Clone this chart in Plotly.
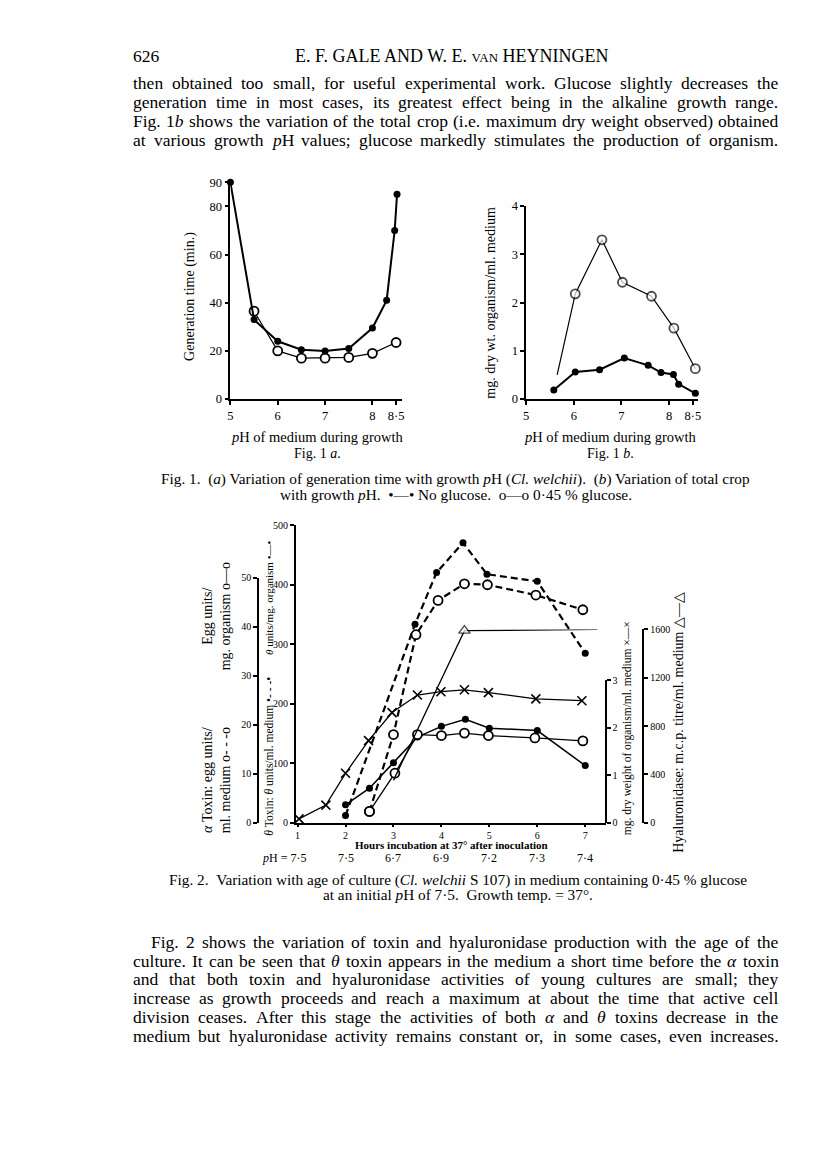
import re
import plotly.graph_objects as go

W, H = 816, 1164

# ---------------- data ----------------
# Fig. 1a  generation time (min.) against growth pH
ph_1a_noglu = [5.0, 5.5, 6.0, 6.5, 7.0, 7.5, 8.0, 8.3, 8.47, 8.52]
gen_noglu = [90, 33, 24, 20.5, 20, 21, 29.5, 41, 70, 85]
ph_1a_glu = [5.5, 6.0, 6.5, 7.0, 7.5, 8.0, 8.5]
gen_glu = [36.5, 20, 17, 17, 17.3, 19, 23.5]

# Fig. 1b  total crop (mg. dry wt./ml.) against growth pH
ph_1b_glu = [5.65, 6.03, 6.59, 7.02, 7.63, 8.1, 8.55]
crop_glu = [0.5, 2.18, 3.30, 2.42, 2.13, 1.47, 0.63]
ph_1b_noglu = [5.58, 6.03, 6.54, 7.06, 7.56, 7.83, 8.09, 8.2, 8.55]
crop_noglu = [0.19, 0.56, 0.61, 0.85, 0.70, 0.55, 0.51, 0.31, 0.12]

# Fig. 2  against hours of incubation
theta_med_h = [2.0, 3.45, 3.9, 4.45, 4.95, 6.0, 7.0]
theta_med = [12, 334, 421, 471, 418, 406, 285]
theta_org_h = [2.0, 2.5, 3.0, 3.5, 4.0, 4.5, 5.0, 6.0, 7.0]
theta_org = [30, 58, 101, 144, 162, 174, 159, 155, 96]
alpha_med_h = [2.5, 3.0, 3.47, 3.93, 4.48, 4.96, 5.97, 6.95]
alpha_med = [2.3, 18.0, 38.4, 45.4, 48.8, 48.6, 46.5, 43.5]
alpha_org_h = [2.5, 3.03, 3.5, 4.0, 4.48, 4.98, 5.95, 6.95]
alpha_org = [2.3, 10.1, 18.0, 17.8, 18.3, 17.8, 17.3, 16.7]
dry_h = [1.03, 1.59, 2.0, 2.48, 2.97, 3.5, 3.99, 4.48, 4.98, 5.97, 6.93]
dry_wt = [0.08, 0.37, 1.04, 1.73, 2.32, 2.69, 2.76, 2.80, 2.74, 2.61, 2.57]
hyal_h = [3.0, 4.48, 7.25]
hyal = [350, 1590, 1600]
hours = [1, 2, 3, 4, 5, 6, 7]
ph_row = ['7·5', '7·5', '6·7', '6·9', '7·2', '7·3', '7·4']

para1 = [
    "then obtained too small, for useful experimental work. Glucose slightly decreases the",
    "generation time in most cases, its greatest effect being in the alkaline growth range.",
    "Fig. 1<i>b</i> shows the variation of the total crop (i.e. maximum dry weight observed) obtained",
    "at various growth <i>p</i>H values; glucose markedly stimulates the production of organism.",
]
para2 = [
    "Fig. 2 shows the variation of toxin and hyaluronidase production with the age of the",
    "culture. It can be seen that <i>θ</i> toxin appears in the medium a short time before the <i>α</i> toxin",
    "and that both toxin and hyaluronidase activities of young cultures are small; they",
    "increase as growth proceeds and reach a maximum at about the time that active cell",
    "division ceases. After this stage the activities of both <i>α</i> and <i>θ</i> toxins decrease in the",
    "medium but hyaluronidase activity remains constant or, in some cases, even increases.",
]

FONT = "Liberation Serif"
NB = "\u00a0"


# page pixel -> paper coords (allowing for the page margin seen in the render)
def px(x):
    return (x - 8) / W


def py(y):
    return 1 - ((y - 14.5) / 0.989) / H


# Times / Liberation Serif advance widths (per 1000 em)
TW = {' ': 250, '.': 250, ',': 250, ';': 278, ':': 278, '(': 333, ')': 333,
      '-': 333, '/': 278, '%': 833, '=': 564, '·': 250, '°': 400, 'θ': 500,
      'α': 530, '—': 1000, '•': 350, NB: 250}
for c, w in zip('abcdefghijklmnopqrstuvwxyz',
                [444, 500, 444, 500, 444, 333, 500, 500, 278, 278, 500, 278, 778,
                 500, 500, 500, 500, 333, 389, 278, 500, 500, 722, 500, 500, 444]):
    TW[c] = w
for c, w in zip('ABCDEFGHIJKLMNOPQRSTUVWXYZ',
                [722, 667, 667, 722, 611, 556, 722, 722, 333, 389, 722, 611, 889,
                 722, 722, 556, 722, 667, 556, 611, 722, 722, 944, 722, 722, 611]):
    TW[c] = w
for c in '0123456789':
    TW[c] = 500


def text_width(s, size):
    s = re.sub(r'<[^>]+>', '', s)
    return sum(TW.get(c, 500) for c in s) * size / 1000


ann = []


def label(text, x, y, size, angle=0, xanchor='center', bold=False):
    if bold:
        text = '<b>' + text + '</b>'
    ann.append(dict(text=text, x=px(x), y=py(y), xref='paper', yref='paper',
                    showarrow=False, textangle=angle, xanchor=xanchor, yanchor='middle',
                    borderpad=0, borderwidth=0,
                    font=dict(family=FONT, size=size, color='black')))


def justify(line, y, size, x0=131, x1=781, indent=0):
    words = line.split(' ')
    widths = [text_width(w, size) for w in words]
    gap = (x1 - x0 - indent - sum(widths)) / (len(words) - 1)
    x = x0 + indent
    for w, wd in zip(words, widths):
        label(w, x, y, size, xanchor='left')
        x += wd + gap


BODY = 17.5
label("626", 131, 56, BODY, xanchor='left')
label("E. F. GALE AND W. E. <span style='font-size:13px'>VAN</span> HEYNINGEN", 452, 56, 18)
for line, y in zip(para1, [83, 102, 121, 140]):
    justify(line, y, BODY)
for i, (line, y) in enumerate(zip(para2, [942, 961, 980, 999, 1018, 1037])):
    justify(line, y, BODY, indent=18 if i == 0 else 0)

# captions
cap1a = ("Fig. 1." + NB * 2 + "(<i>a</i>) Variation of generation time with growth <i>p</i>H "
         "(<i>Cl. welchii</i>)." + NB * 2 + "(<i>b</i>) Variation of total crop")
cap1b = ("with growth <i>p</i>H." + NB * 2 + "•—•" + NB + "No glucose." + NB * 2 + "o—o" + NB +
         "0·45" + NB + "% glucose.")
CAP = 593 / text_width(cap1a, 1)
label(cap1a, 456, 479, CAP)
label(cap1b, 456, 494, CAP)
label("Fig. 2." + NB * 2 + "Variation with age of culture (<i>Cl. welchii</i> S 107) in medium "
      "containing 0·45 % glucose", 458, 880, CAP)
label("at an initial <i>p</i>H of 7·5." + NB * 2 + "Growth temp. = 37°.", 458, 895, CAP)

# fig 1 labels
label("Generation time (min.)", 189, 296, 14, angle=-90)
label("mg. dry wt. organism/ml. medium", 491, 302, 14, angle=-90)
label("<i>p</i>H of medium during growth", 317, 437, 14.5)
label("<i>p</i>H of medium during growth", 612, 437, 14.5)
label("Fig. 1 <i>a</i>.", 317, 453, 14)
label("Fig. 1 <i>b</i>.", 612, 453, 14)

# fig 2 labels
label("<i>α</i> Toxin: egg units/<br>ml. medium o- - -o", 215, 780, 14, angle=-90)
label("Egg units/<br>mg. organism o—o", 215, 616, 14, angle=-90)
label("<i>θ</i> Toxin: <i>θ</i> units/ml. medium •- - -•", 268, 757, 11.5, angle=-90)
label("<i>θ</i> units/mg. organism •—•", 268, 598, 11, angle=-90)
label("mg. dry weight of organism/ml. medium ×—×", 629, 728, 11.5, angle=-90)
label("Hyaluronidase: m.c.p. titre/ml. medium △—△", 681, 723, 14, angle=-90)
label("Hours incubation at 37° after inoculation", 452, 845, 11, bold=True)
for h, p in zip(hours, ph_row):
    first = h == hours[0]
    ann.append(dict(text=("<i>p</i>H = " + p) if first else p, x=h, y=py(858),
                    xref='x3', yref='paper', showarrow=False,
                    xanchor='right' if first else 'center', xshift=10 if first else 0,
                    yanchor='middle', font=dict(family=FONT, size=12, color='black')))

# ---------------- traces ----------------
filled = dict(symbol='circle', size=7, color='black')
opened = dict(symbol='circle', size=9, color='white', line=dict(color='black', width=1.8))

traces = [
    go.Scatter(x=ph_1a_glu, y=gen_glu, xaxis='x', yaxis='y', mode='lines+markers',
               line=dict(color='black', width=1.2), marker=opened, cliponaxis=False),
    go.Scatter(x=ph_1a_noglu, y=gen_noglu, xaxis='x', yaxis='y', mode='lines+markers',
               line=dict(color='black', width=2), marker=filled, cliponaxis=False),
    go.Scatter(x=ph_1b_noglu, y=crop_noglu, xaxis='x2', yaxis='y2', mode='lines+markers',
               line=dict(color='black', width=2), marker=filled, cliponaxis=False),
    go.Scatter(x=ph_1b_glu, y=crop_glu, xaxis='x2', yaxis='y2', mode='lines+markers',
               line=dict(color='black', width=1.2),
               marker=dict(opened, size=[0] + [9] * (len(crop_glu) - 1)), cliponaxis=False),
    # fig 2
    go.Scatter(x=hyal_h, y=hyal, xaxis='x6', yaxis='y6', mode='lines+markers',
               line=dict(color='black', width=1.3),
               marker=dict(symbol='triangle-up', size=[0, 10, 0], color='white',
                           line=dict(color='black', width=1.4)), cliponaxis=False),
    go.Scatter(x=dry_h, y=dry_wt, xaxis='x5', yaxis='y5', mode='lines+markers',
               line=dict(color='black', width=1.3),
               marker=dict(symbol='x-thin', size=9, line=dict(color='black', width=1.6)),
               cliponaxis=False),
    go.Scatter(x=theta_med_h, y=theta_med, xaxis='x3', yaxis='y3', mode='lines+markers',
               line=dict(color='black', width=2.2, dash='7px,4px'), marker=filled, cliponaxis=False),
    go.Scatter(x=theta_org_h, y=theta_org, xaxis='x3', yaxis='y3', mode='lines+markers',
               line=dict(color='black', width=1.5), marker=filled, cliponaxis=False),
    go.Scatter(x=alpha_med_h, y=alpha_med, xaxis='x4', yaxis='y4', mode='lines+markers',
               line=dict(color='black', width=2.2, dash='7px,4px'), marker=opened, cliponaxis=False),
    go.Scatter(x=alpha_org_h, y=alpha_org, xaxis='x4', yaxis='y4', mode='lines+markers',
               line=dict(color='black', width=1.3), marker=opened, cliponaxis=False),
]

tick_font = dict(family=FONT, size=12.5, color='black')
small_tick = dict(family=FONT, size=10, color='black')


def ax(**kw):
    base = dict(showline=True, linecolor='black', linewidth=1.6, ticks='outside', ticklen=4,
                tickwidth=1.5, tickcolor='black', showgrid=False, zeroline=False,
                tickfont=tick_font, fixedrange=True)
    base.update(kw)
    return base


h0 = 296.7
hpx = 48.3
hrange = [1 - (h0 - 295) / hpx, 1 + (607 - h0) / hpx]
hidden = dict(domain=[px(295), px(607)], range=hrange, visible=False, fixedrange=True)

layout = go.Layout(
    width=W, height=H, margin=dict(l=0, r=0, t=0, b=0),
    paper_bgcolor='white', plot_bgcolor='rgba(0,0,0,0)', showlegend=False,
    xaxis=ax(domain=[px(229), px(402)], range=[5, 5 + 173 / 47.7], anchor='y',
             tickvals=[5, 6, 7, 8, 8.5], ticktext=['5', '6', '7', '8', '8·5']),
    yaxis=ax(domain=[py(399), py(182)], range=[0, 90], anchor='x',
             tickvals=[0, 20, 40, 60, 80, 90]),
    xaxis2=ax(domain=[px(527), px(700)], range=[5, 5 + 173 / 48], anchor='y2',
              tickvals=[5, 6, 7, 8, 8.5], ticktext=['5', '6', '7', '8', '8·5']),
    yaxis2=ax(domain=[py(399), py(205.7)], range=[0, 4], anchor='x2', dtick=1),
    xaxis3=ax(domain=[px(295), px(607)], range=hrange, anchor='y3', tickvals=hours,
              linewidth=2, ticklen=2, tickfont=small_tick),
    yaxis3=ax(domain=[py(823), py(525.5)], range=[0, 500], anchor='x3', dtick=100,
              linewidth=2, tickfont=small_tick),
    xaxis4=dict(hidden, anchor='y4'),
    yaxis4=ax(domain=[py(823), py(578)], range=[0, 50], anchor='free', position=px(257),
              side='left', dtick=10, linewidth=2, tickfont=small_tick),
    xaxis5=dict(hidden, anchor='y5'),
    yaxis5=ax(domain=[py(823), py(680.5)], range=[0, 3], anchor='free', position=px(607),
              side='right', dtick=1, linewidth=2, tickfont=small_tick),
    xaxis6=dict(hidden, anchor='y6'),
    yaxis6=ax(domain=[py(823), py(629.6)], range=[0, 1600], anchor='free', position=px(645),
              side='right', dtick=400, linewidth=2, tickfont=small_tick),
    annotations=ann,
)

fig = go.Figure(data=traces, layout=layout)
fig.write_html("out.html")
